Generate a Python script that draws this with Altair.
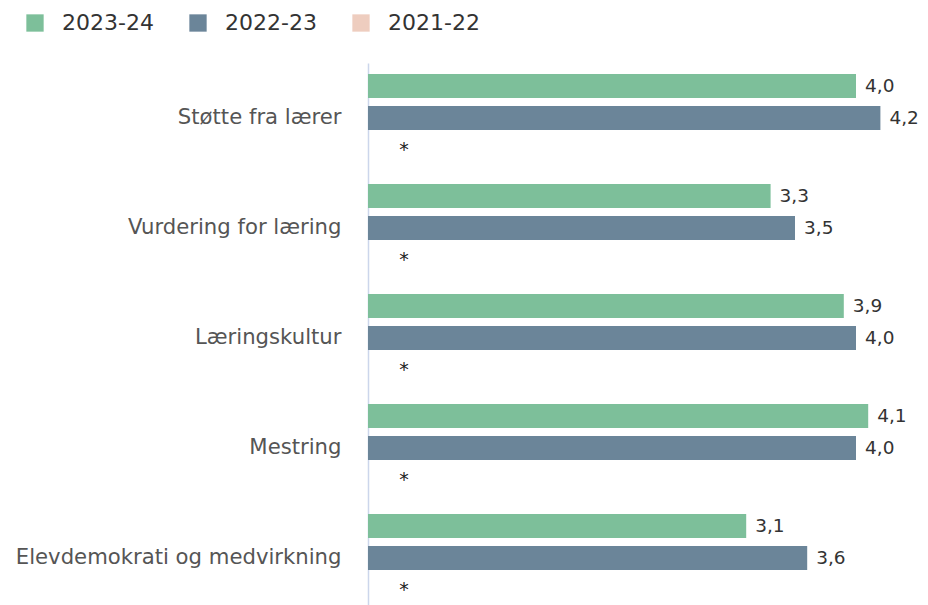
import altair as alt
import pandas as pd

categories = ["Støtte fra lærer", "Vurdering for læring", "Læringskultur",
              "Mestring", "Elevdemokrati og medvirkning"]
series = ["2023-24", "2022-23", "2021-22"]
values_2023_24 = [4.0, 3.3, 3.9, 4.1, 3.1]
values_2022_23 = [4.2, 3.5, 4.0, 4.0, 3.6]
values_2021_22 = [None, None, None, None, None]
colors = ["#7dbf9a", "#6b8599", "#eecdbf"]

rows = []
for i, cat in enumerate(categories):
    for s, vals in zip(series, [values_2023_24, values_2022_23, values_2021_22]):
        v = vals[i]
        missing = v is None
        rows.append({
            "kategori": cat,
            "år": s,
            "verdi": 0.0 if missing else v,
            "etikett": "*" if missing else f"{v:.1f}".replace(".", ","),
            "mangler": missing,
        })
df = pd.DataFrame(rows)

FONT = "DejaVu Sans"

y_enc = alt.Y("kategori:N", sort=categories,
              scale=alt.Scale(paddingInner=0.2, paddingOuter=0.1),
              axis=alt.Axis(title=None, ticks=False, labelPadding=27,
                            labelFontSize=21.2, labelColor="#555555", labelFont=FONT,
                            domainColor="#ccd6eb", domainWidth=1.5, labelLimit=400))
yoff_enc = alt.YOffset("år:N", sort=series,
                       scale=alt.Scale(domain=series, paddingInner=0.25))
x_enc = alt.X("verdi:Q", scale=alt.Scale(domain=[0, 4.5]), axis=None)

base = alt.Chart(df).encode(y=y_enc, yOffset=yoff_enc, x=x_enc)

bars = base.transform_filter("!datum.mangler").mark_bar().encode(
    color=alt.Color("år:N", scale=alt.Scale(domain=series, range=colors),
                    legend=alt.Legend(title=None, orient="none", direction="horizontal",
                                      legendX=-344, legendY=-51,
                                      symbolType="square", symbolSize=300,
                                      symbolStrokeWidth=0, symbolOpacity=1,
                                      labelFontSize=22, labelFont=FONT,
                                      labelColor="#333333", labelOffset=16,
                                      columnPadding=33))
)

labels = base.transform_filter("!datum.mangler").mark_text(
    align="left", baseline="middle", dx=9, fontSize=18.5, font=FONT, color="#333333"
).encode(text="etikett:N")

stars = base.transform_filter("datum.mangler").mark_text(
    align="center", baseline="middle", dx=36, dy=0, fontSize=19, font=FONT, color="#222222"
).encode(text="etikett:N")

chart = alt.layer(bars, labels, stars).properties(
    width=549, height=550,
    autosize=alt.AutoSizeParams(type="none"),
    padding={"left": 360, "top": 55, "right": 3, "bottom": 0},
).configure_view(stroke=None)

chart.save("out.html", embed_options={"renderer": "svg", "actions": False})
